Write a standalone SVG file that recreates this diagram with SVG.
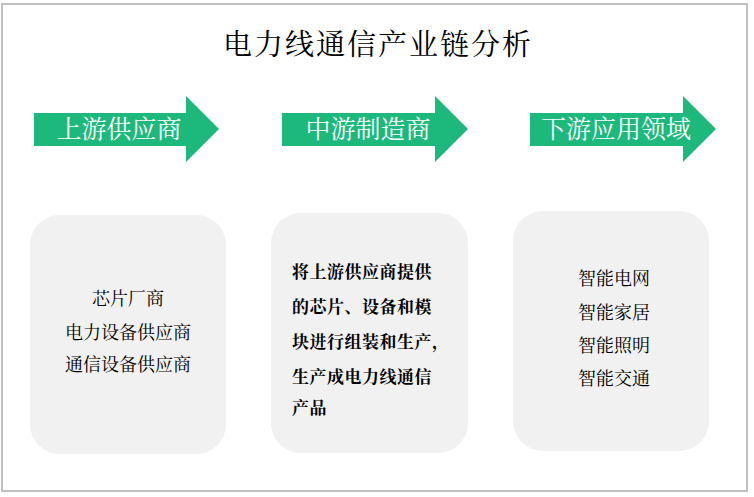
<svg xmlns="http://www.w3.org/2000/svg" width="754" height="497" viewBox="0 0 754 497">
<style>
  .t { font-family: "Noto Serif CJK SC", "Noto Sans CJK SC", serif; fill: #000; }
  .title { font-size: 29px; letter-spacing: 2px; }
  .arrow { fill: #1DB97C; }
  .alabel { font-family: "Noto Serif CJK SC", "Noto Sans CJK SC", serif; fill: #fff; font-size: 25px; }
  .box { fill: #F1F1F1; }
  .bt { font-size: 18px; }
  .bold { font-weight: bold; font-size: 17px; letter-spacing: 0.5px; }
</style>
<rect x="2" y="4" width="745" height="487" fill="#fff" stroke="#C0C0C0" stroke-width="2"/>
<g id="title">
  <text class="t title" x="378" y="55" text-anchor="middle">电力线通信产业链分析</text>
</g>
<g id="arrow-upstream">
  <polygon class="arrow" points="34,113 186,113 186,96 219,129 186,162 186,146 34,146"/>
  <text class="alabel" x="119" y="138" text-anchor="middle">上游供应商</text>
</g>
<g id="arrow-midstream">
  <polygon class="arrow" points="282,113 435,113 435,96 468,129 435,162 435,146 282,146"/>
  <text class="alabel" x="368" y="138" text-anchor="middle">中游制造商</text>
</g>
<g id="arrow-downstream">
  <polygon class="arrow" points="530,113 683,113 683,96 716,129 683,162 683,146 530,146"/>
  <text class="alabel" x="616" y="138" text-anchor="middle">下游应用领域</text>
</g>
<g id="box-upstream">
  <rect class="box" x="30" y="215" width="196" height="239" rx="30"/>
  <text class="t bt" x="128" y="305" text-anchor="middle">芯片厂商</text>
  <text class="t bt" x="128" y="339" text-anchor="middle">电力设备供应商</text>
  <text class="t bt" x="128" y="371" text-anchor="middle">通信设备供应商</text>
</g>
<g id="box-midstream">
  <rect class="box" x="271" y="213" width="197" height="240" rx="30"/>
  <text class="t bold" x="292" y="278">将上游供应商提供</text>
  <text class="t bold" x="292" y="313">的芯片、设备和模</text>
  <text class="t bold" x="292" y="348">块进行组装和生产，</text>
  <text class="t bold" x="292" y="383">生产成电力线通信</text>
  <text class="t bold" x="292" y="414">产品</text>
</g>
<g id="box-downstream">
  <rect class="box" x="513" y="211" width="196" height="240" rx="30"/>
  <text class="t bt" x="614" y="285" text-anchor="middle">智能电网</text>
  <text class="t bt" x="614" y="319" text-anchor="middle">智能家居</text>
  <text class="t bt" x="614" y="352" text-anchor="middle">智能照明</text>
  <text class="t bt" x="614" y="385" text-anchor="middle">智能交通</text>
</g>
<g id="connectors"></g>
</svg>
